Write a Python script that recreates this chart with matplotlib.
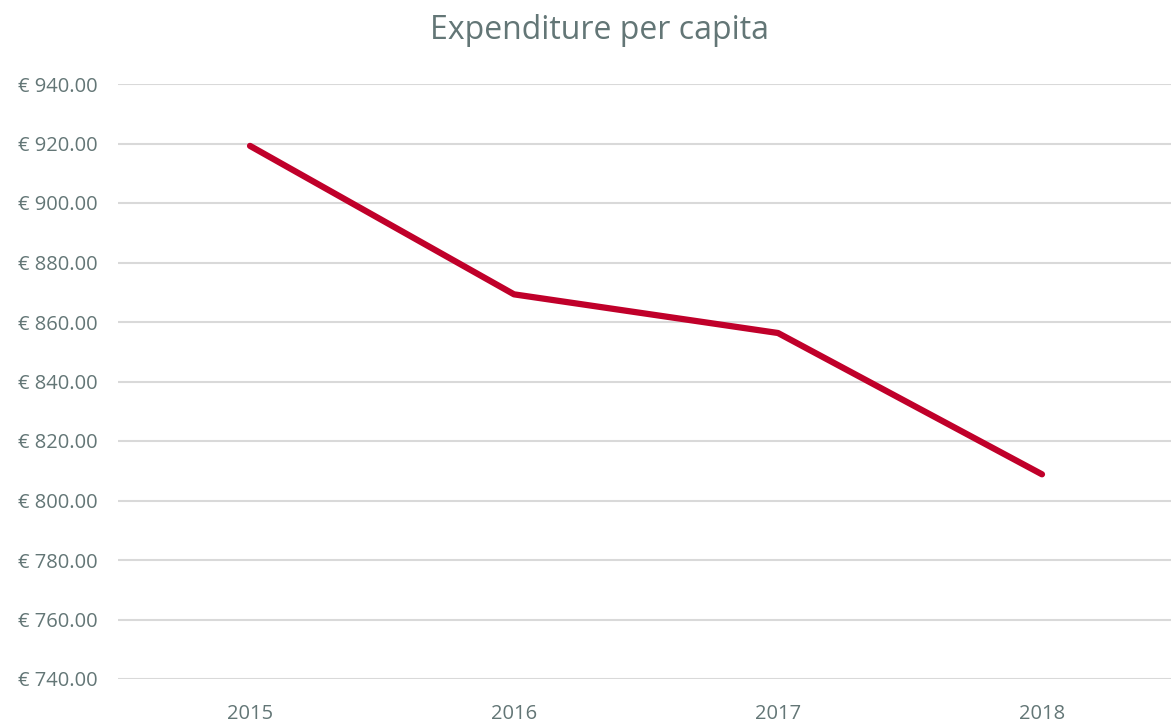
import matplotlib.pyplot as plt

# Data
years = ["2015", "2016", "2017", "2018"]
expenditure = [919.2, 869.3, 856.3, 808.8]
y_ticks = [740, 760, 780, 800, 820, 840, 860, 880, 900, 920, 940]

text_color = "#637676"
plt.rcParams['font.family'] = ['Open Sans', 'DejaVu Sans']

fig = plt.figure(figsize=(11.71, 7.24), dpi=100)
ax = fig.add_axes([118 / 1171, 45 / 724, 1056 / 1171, 595 / 724])

x = range(len(years))
ax.plot(x, expenditure, color="#C0002A", linewidth=4.5, solid_capstyle="round")

ax.set_xlim(-0.5, len(years) - 0.5)
ax.set_ylim(740, 940)
ax.set_xticks(list(x))
ax.set_xticklabels(years)
ax.set_yticks(y_ticks)
ax.set_yticklabels([f"€ {v:.2f}" for v in y_ticks])
ax.tick_params(axis="both", length=0, labelsize=14.5, colors=text_color)
ax.tick_params(axis="y", pad=15)
ax.tick_params(axis="x", pad=18)

ax.grid(axis="y", color="#d9d9d9", linewidth=1.5)
ax.set_axisbelow(True)
for s in ax.spines.values():
    s.set_visible(False)

fig.text(0.512, 0.958, "Expenditure per capita", ha="center", va="center",
         fontsize=23, color=text_color)

fig.savefig("out.png", dpi=100)
